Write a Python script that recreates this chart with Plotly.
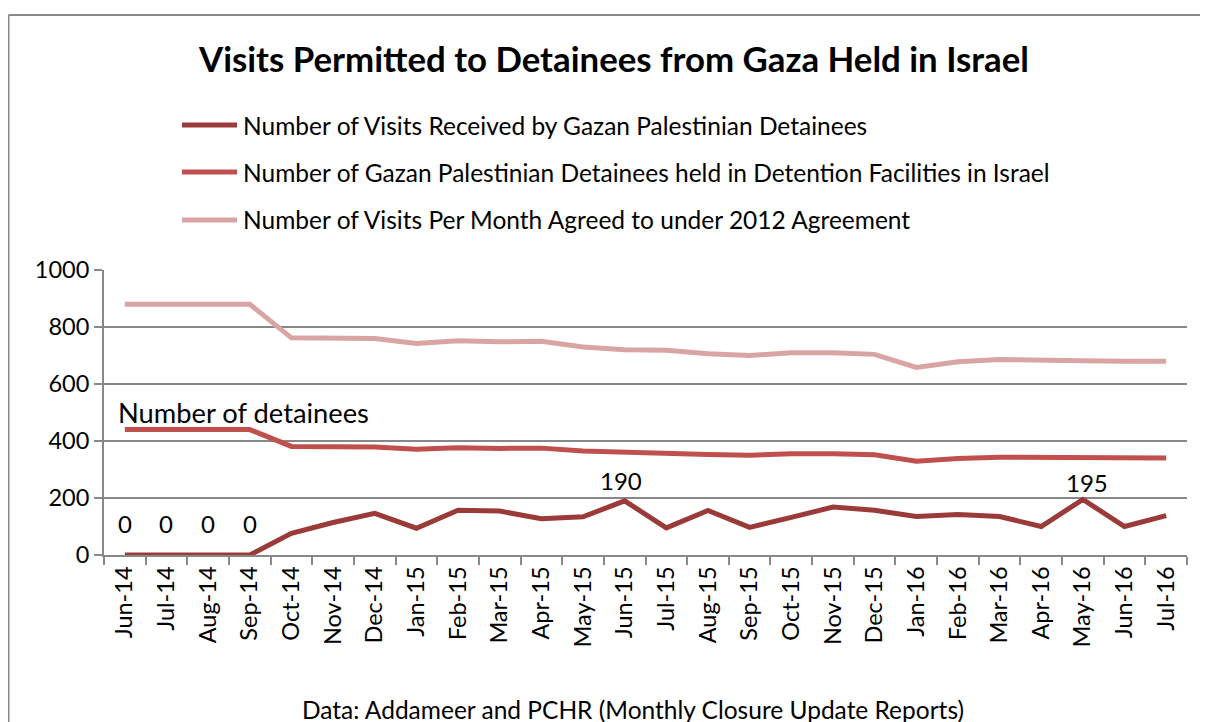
import plotly.graph_objects as go

months = ["Jun-14", "Jul-14", "Aug-14", "Sep-14", "Oct-14", "Nov-14", "Dec-14",
          "Jan-15", "Feb-15", "Mar-15", "Apr-15", "May-15", "Jun-15", "Jul-15",
          "Aug-15", "Sep-15", "Oct-15", "Nov-15", "Dec-15", "Jan-16", "Feb-16",
          "Mar-16", "Apr-16", "May-16", "Jun-16", "Jul-16"]

visits_received = [0, 0, 0, 0, 76, 114, 146, 94, 157, 154, 127, 134, 190, 95,
                   156, 97, 132, 168, 157, 135, 142, 135, 100, 195, 100, 138]

detainees = [440, 440, 440, 440, 381, 380, 379, 371, 376, 374, 375, 365, 360,
             359, 353, 350, 355, 355, 352, 329, 339, 343, 343, 341, 340, 340]

visits_agreed = [880, 880, 880, 880, 762, 761, 760, 742, 752, 748, 750, 730, 720,
                 718, 706, 700, 710, 710, 704, 658, 678, 686, 686, 682, 680, 680]

names = ["Number of Visits Received by Gazan Palestinian Detainees",
         "Number of Gazan Palestinian Detainees held in Detention Facilities in Israel",
         "Number of Visits Per Month Agreed to under 2012 Agreement"]

colors = ["#9B3B39", "#C0504D", "#D9A5A4"]

FONT = "Lato, Carlito, Calibri, sans-serif"

# the page shows the figure 8px in from the top-left corner of the window
OFF = 8
W, H = 1208 - OFF, 722 - OFF
# plot area in window pixels: x 104..1187, y 270..555
L, R, T, B = 104 - OFF, 1208 - 1187, 270 - OFF, 722 - 555
pw, ph = W - L - R, H - T - B

def px(x):
    """window pixel x -> paper x"""
    return (x - OFF - L) / pw

def py(y):
    """window pixel y -> paper y"""
    return (H - B - (y - OFF)) / ph

fig = go.Figure()
for i, (name, vals) in enumerate(zip(names, [visits_received, detainees, visits_agreed])):
    fig.add_trace(go.Scatter(
        x=months, y=vals, mode="lines", name=name,
        line=dict(color=colors[i], width=5),
        showlegend=False, hoverinfo="skip"))

annotations = []
shapes = []

# legend (drawn as layout items)
legend_rows = [125, 172, 220]
for i, name in enumerate(names):
    shapes.append(dict(type="line", xref="paper", yref="paper",
                       x0=px(182), x1=px(237), y0=py(legend_rows[i]), y1=py(legend_rows[i]),
                       line=dict(color=colors[i], width=5)))
    annotations.append(dict(x=px(241), y=py(legend_rows[i]), xref="paper", yref="paper",
                            xanchor="left", yanchor="middle", showarrow=False,
                            text=name, font=dict(size=24.5, color="black", family=FONT)))

for i in range(4):
    annotations.append(dict(x=months[i], y=visits_received[i], xref="x", yref="y",
                            text=str(visits_received[i]), showarrow=False,
                            yshift=32, font=dict(size=24, color="black", family=FONT)))
for idx, ys in [(12, 20), (23, 17)]:
    annotations.append(dict(x=months[idx], y=visits_received[idx], xref="x", yref="y",
                            text=str(visits_received[idx]), showarrow=False,
                            yshift=ys, xshift=4 if idx == 23 else -4,
                            font=dict(size=24, color="black", family=FONT)))
annotations.append(dict(x=px(116), y=py(412), xref="paper", yref="paper",
                        xanchor="left", yanchor="middle", showarrow=False,
                        text="Number of detainees",
                        font=dict(size=27.3, color="black", family=FONT)))
annotations.append(dict(x=px(633), y=py(709), xref="paper", yref="paper",
                        xanchor="center", yanchor="middle", showarrow=False,
                        text="Data: Addameer and PCHR (Monthly Closure Update Reports)",
                        font=dict(size=24.5, color="black", family=FONT)))

shapes += [
    dict(type="line", xref="paper", yref="paper", x0=px(8.5), x1=px(8.5), y0=py(15), y1=py(740),
         line=dict(color="#898989", width=2)),
    dict(type="line", xref="paper", yref="paper", x0=px(8.5), x1=px(1230), y0=py(15), y1=py(15),
         line=dict(color="#898989", width=2)),
]

fig.update_layout(
    width=W, height=H,
    margin=dict(l=L, r=R, t=T, b=B, pad=0, autoexpand=False),
    paper_bgcolor="white", plot_bgcolor="white",
    font=dict(family=FONT, color="black"),
    title=dict(text="<b>Visits Permitted to Detainees from Gaza Held in Israel</b>",
               x=(614 - OFF) / W, xref="container", xanchor="center",
               y=1 - (60 - OFF) / H, yref="container", yanchor="middle",
               font=dict(size=34.8, family=FONT, color="black")),
    showlegend=False,
    annotations=annotations,
    shapes=shapes,
    xaxis=dict(type="category", categoryorder="array", categoryarray=months,
               range=[-0.5, len(months) - 0.5],
               showgrid=False, showline=True, linecolor="#888888", linewidth=2,
               ticks="outside", tickson="boundaries", ticklen=8, tickwidth=2,
               tickcolor="#888888", tickangle=-90,
               tickfont=dict(size=23.5, family=FONT, color="black"),
               zeroline=False, fixedrange=True),
    yaxis=dict(range=[0, 1000], tickvals=[0, 200, 400, 600, 800, 1000],
               showgrid=True, gridcolor="#888888", gridwidth=2,
               showline=True, linecolor="#888888", linewidth=2,
               ticks="outside", ticklen=8, tickwidth=2, tickcolor="#888888",
               tickfont=dict(size=23.5, family=FONT, color="black"),
               zeroline=False, fixedrange=True),
)

fig.write_html("out.html")
